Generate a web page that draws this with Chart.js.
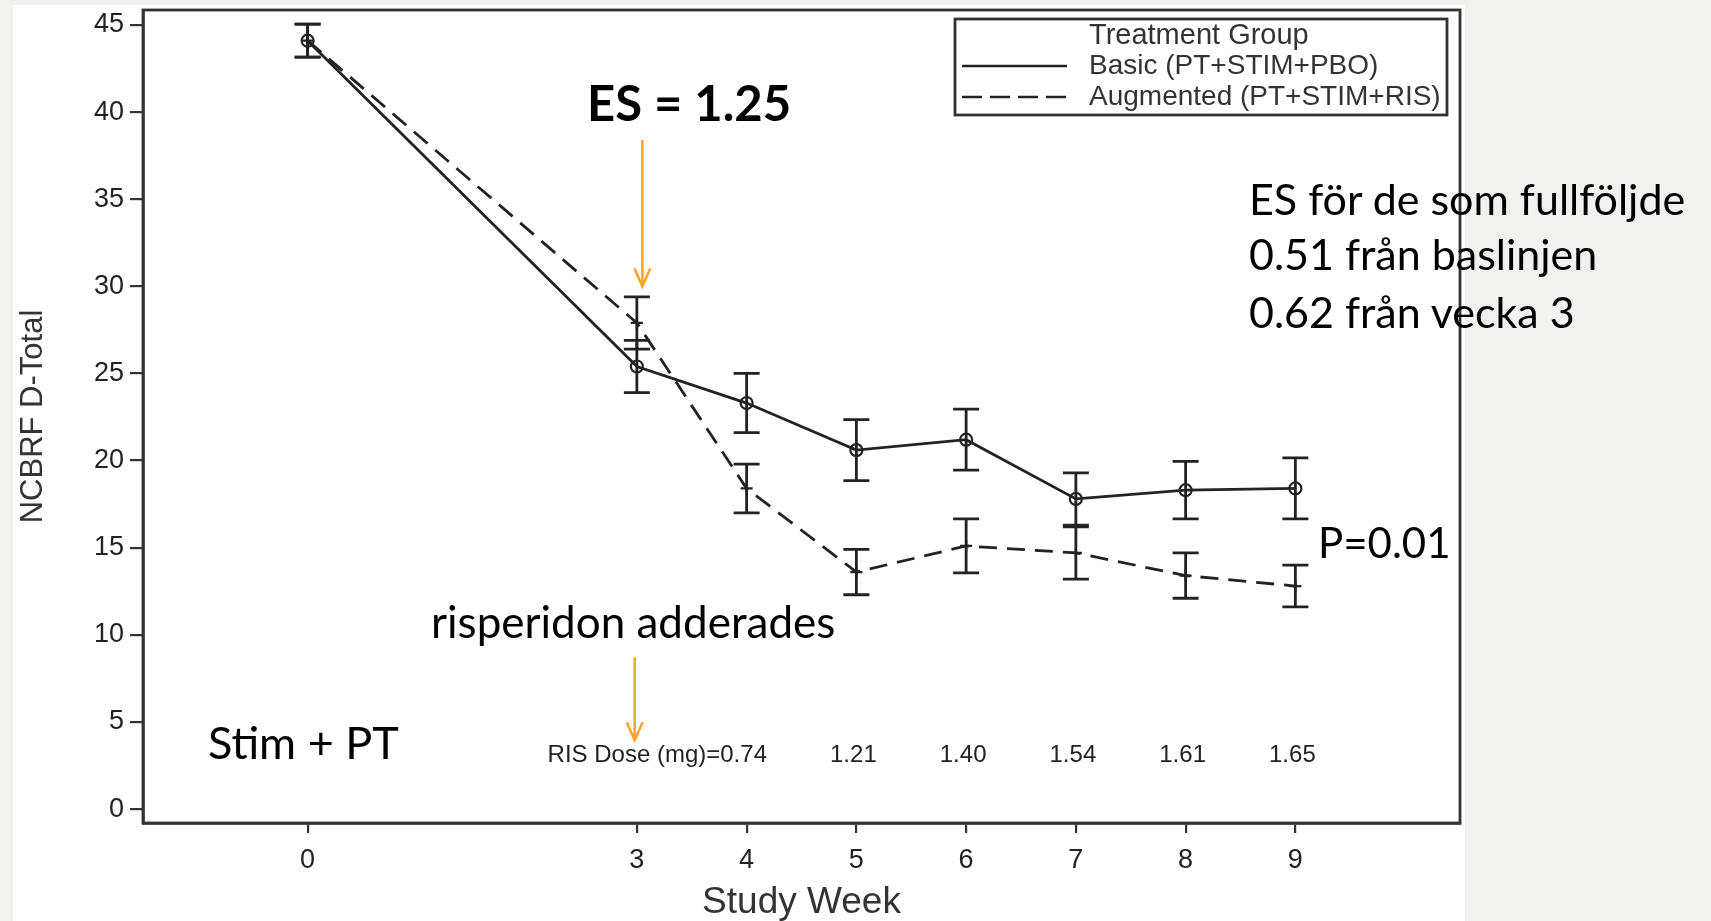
<!DOCTYPE html>
<html>
<head>
<meta charset="utf-8">
<script src="https://cdn.jsdelivr.net/npm/chart.js@4.4.0/dist/chart.umd.min.js"></script>
<style>
  html, body { margin: 0; padding: 0; width: 1711px; height: 921px; overflow: hidden; background: #f1f1ef; }
  #paper { position: absolute; left: 13px; top: 5px; width: 1452px; height: 916px; background: #fff; }
  #wrap { position: absolute; left: 0; top: 0; width: 1711px; height: 921px; }
  .note { position: absolute; font-family: Lato, "Open Sans", sans-serif; color: #000; white-space: nowrap; line-height: 1; font-size: 43px; }
</style>
</head>
<body>
<div id="paper"></div>
<div id="wrap"><canvas id="chart" width="1711" height="921"></canvas></div>

<div class="note" style="left:587px; top:78px; font-size:49px; font-weight:bold;">ES = 1.25</div>
<div class="note" style="left:1249px; top:177px;">ES för de som fullföljde</div>
<div class="note" style="left:1249px; top:232px;">0.51 från baslinjen</div>
<div class="note" style="left:1249px; top:290px;">0.62 från vecka 3</div>
<div class="note" style="left:1318px; top:521px; font-size:42px;">P=0.01</div>
<div class="note" style="left:431px; top:599px; font-size:44px;">risperidon adderades</div>
<div class="note" style="left:208px; top:720px; font-size:45px;">Stim + PT</div>

<script>
// data
const weeks = [0, 3, 4, 5, 6, 7, 8, 9];
const basicMean = [44.1, 25.4, 23.3, 20.6, 21.2, 17.8, 18.3, 18.4];
const basicErr = [0.95, 1.5, 1.7, 1.75, 1.75, 1.5, 1.65, 1.75];
const augMean = [44.1, 27.9, 18.4, 13.6, 15.1, 14.7, 13.4, 12.8];
const augErr = [0.95, 1.5, 1.4, 1.3, 1.55, 1.5, 1.3, 1.2];

const xTicks = [0, 3, 4, 5, 6, 7, 8, 9];
const yTicks = [0, 5, 10, 15, 20, 25, 30, 35, 40, 45];

const doseWeeks = [4, 5, 6, 7, 8, 9];
const doseValues = ['0.74', '1.21', '1.40', '1.54', '1.61', '1.65'];

const legendLabels = ['Basic (PT+STIM+PBO)', 'Augmented (PT+STIM+RIS)'];

const ink = '#222';
const orange = '#f5a623';
const axisFont = '"Liberation Sans", Arial, sans-serif';

// felstaplar
const errorBars = {
  id: 'errorBars',
  afterDatasetsDraw(chart) {
    const { ctx, scales: { x, y } } = chart;
    ctx.save();
    ctx.strokeStyle = ink;
    ctx.lineWidth = 2.8;
    [[augMean, augErr], [basicMean, basicErr]].forEach(([m, e]) => {
      weeks.forEach((w, i) => {
        const px = x.getPixelForValue(w);
        const top = y.getPixelForValue(m[i] + e[i]);
        const bot = y.getPixelForValue(m[i] - e[i]);
        ctx.beginPath();
        ctx.moveTo(px, top); ctx.lineTo(px, bot);
        ctx.moveTo(px - 13, top); ctx.lineTo(px + 13, top);
        ctx.moveTo(px - 13, bot); ctx.lineTo(px + 13, bot);
        ctx.stroke();
      });
    });
    ctx.restore();
  }
};

// ram, dosrad, pilar och legend
const extras = {
  id: 'extras',
  afterDraw(chart) {
    const { ctx, chartArea: a, scales: { x, y } } = chart;
    ctx.save();

    // box around plot
    ctx.strokeStyle = '#333';
    ctx.lineWidth = 2.8;
    ctx.strokeRect(a.left, a.top, a.right - a.left, a.bottom - a.top);

    // RIS dose row
    ctx.fillStyle = ink;
    ctx.font = '24px ' + axisFont;
    ctx.textBaseline = 'middle';
    const dy = y.getPixelForValue(3.1);
    doseWeeks.forEach((w, i) => {
      ctx.textAlign = 'center';
      ctx.fillText(doseValues[i], x.getPixelForValue(w) - 3, dy);
    });
    const firstW = ctx.measureText(doseValues[0]).width;
    ctx.textAlign = 'right';
    ctx.fillText('RIS Dose (mg)=', x.getPixelForValue(doseWeeks[0]) - 3 - firstW / 2, dy);

    // orange arrows
    const arrow = (xv, y1, y2) => {
      const px = x.getPixelForValue(xv);
      const p1 = y.getPixelForValue(y1);
      const p2 = y.getPixelForValue(y2);
      ctx.strokeStyle = orange;
      ctx.lineWidth = 2.5;
      ctx.beginPath();
      ctx.moveTo(px, p1); ctx.lineTo(px, p2);
      ctx.moveTo(px - 8, p2 - 18); ctx.lineTo(px, p2); ctx.lineTo(px + 8, p2 - 18);
      ctx.stroke();
    };
    arrow(3.05, 38.4, 30.0);
    arrow(2.98, 8.7, 3.95);

    // legend box
    const lx = 955, ly = 19, lw = 492, lh = 96;
    ctx.fillStyle = '#fff';
    ctx.fillRect(lx, ly, lw, lh);
    ctx.strokeStyle = '#333';
    ctx.lineWidth = 2.8;
    ctx.strokeRect(lx, ly, lw, lh);
    ctx.fillStyle = '#333';
    ctx.textAlign = 'left';
    ctx.font = '29px ' + axisFont;
    ctx.fillText('Treatment Group', 1089, 36);
    ctx.font = '28px ' + axisFont;
    const rows = [66, 97];
    rows.forEach((ry, i) => {
      ctx.strokeStyle = ink;
      ctx.lineWidth = 2.5;
      ctx.setLineDash(i === 0 ? [] : [20, 8]);
      ctx.beginPath();
      ctx.moveTo(962, ry); ctx.lineTo(1067, ry);
      ctx.stroke();
      ctx.setLineDash([]);
      ctx.fillText(legendLabels[i], 1089, ry);
    });
    ctx.restore();
  }
};

const ctx = document.getElementById('chart').getContext('2d');
new Chart(ctx, {
  type: 'scatter',
  data: {
    datasets: [
      {
        label: legendLabels[0],
        data: weeks.map((w, i) => ({ x: w, y: basicMean[i] })),
        showLine: true,
        borderColor: ink,
        borderWidth: 2.8,
        pointStyle: 'circle',
        pointRadius: 6,
        pointBorderWidth: 2.2,
        pointBorderColor: ink,
        pointBackgroundColor: 'rgba(255,255,255,0)'
      },
      {
        label: legendLabels[1],
        data: weeks.map((w, i) => ({ x: w, y: augMean[i] })),
        showLine: true,
        borderColor: ink,
        borderWidth: 2.8,
        borderDash: [18, 10],
        pointStyle: 'cross',
        pointRadius: 6,
        pointBorderWidth: 2.2,
        pointBorderColor: ink
      }
    ]
  },
  options: {
    responsive: false,
    animation: false,
    devicePixelRatio: 1,
    layout: { padding: { top: 10, right: 251, left: 0, bottom: 0 } },
    plugins: {
      legend: { display: false },
      tooltip: { enabled: false }
    },
    scales: {
      x: {
        type: 'linear',
        min: -1.5,
        max: 10.5,
        afterBuildTicks: s => { s.ticks = xTicks.map(v => ({ value: v })); },
        afterFit: s => { s.height = 98; s.paddingLeft = 0; s.paddingRight = 0; },
        grid: { drawOnChartArea: false, drawTicks: true, tickLength: 10, color: '#333', lineWidth: 2.2 },
        border: { display: true, color: '#333', width: 2.8 },
        ticks: { padding: 11, color: '#222', maxRotation: 0, autoSkip: false, font: { family: axisFont, size: 27 } },
        title: { display: true, text: 'Study Week', color: '#333', padding: { top: 0, bottom: 0 }, font: { family: axisFont, size: 37, lineHeight: 1 } }
      },
      y: {
        min: -0.8,
        max: 45.86,
        afterBuildTicks: s => { s.ticks = yTicks.map(v => ({ value: v })); },
        afterFit: s => { s.width = 143; s.paddingTop = 0; s.paddingBottom = 0; },
        grid: { drawOnChartArea: false, drawTicks: true, tickLength: 13, color: '#333', lineWidth: 2.2 },
        border: { display: true, color: '#333', width: 2.8 },
        ticks: { padding: 6, color: '#222', font: { family: axisFont, size: 27 } },
        title: { display: true, text: 'NCBRF D-Total', color: '#333', padding: { top: 15, bottom: 0 }, font: { family: axisFont, size: 31 } }
      }
    }
  },
  plugins: [errorBars, extras]
});
</script>
</body>
</html>
